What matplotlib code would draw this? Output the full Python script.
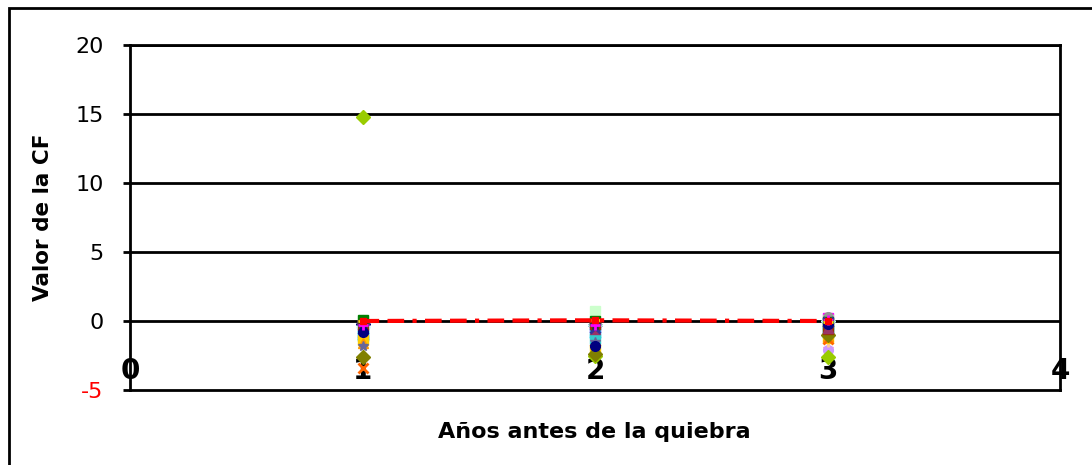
import numpy as np
import matplotlib.pyplot as plt
from matplotlib.patches import Rectangle

# years before bankruptcy
years = [1, 2, 3]

# CF value per company (one row = one company, values at years 1, 2, 3)
cf_values = [
    [-0.2, -0.3, 0.0],
    [-0.3, -0.4, 0.2],
    [-1.3, -0.3, -0.2],
    [-1.0, -0.9, -0.8],
    [-0.6, -0.5, -0.4],
    [-0.1, -0.2, -0.2],
    [-0.2, -0.5, -0.3],
    [-0.5, 0.1, -0.1],
    [-1.1, -0.9, -0.7],
    [-0.4, -0.3, 0.0],
    [0.0, 0.7, 0.1],
    [-1.3, -1.0, -0.4],
    [-0.9, -0.6, -0.3],
    [-0.8, -0.7, -2.0],
    [-0.3, -0.2, -2.1],
    [-0.5, -0.1, -1.5],
    [-0.7, -0.4, -0.6],
    [-1.0, -1.3, -0.9],
    [14.8, -2.5, -2.6],
    [-1.4, -2.1, -1.2],
    [-1.6, -2.2, -1.1],
    [-3.4, -2.0, -1.3],
    [-1.8, -1.5, -0.8],
    [0.1, -0.1, 0.3],
    [-0.4, -0.6, -0.2],
    [-0.1, 0.1, -0.4],
    [0.1, 0.0, -0.1],
    [-2.6, -2.4, -1.0],
    [-0.3, -0.2, -0.6],
    [-0.5, -0.6, -0.5],
    [-0.6, -0.5, -0.1],
    [-0.2, -0.3, -0.2],
    [-0.8, -1.8, -0.2],
    [-0.3, -0.3, 0.1],
    [0.0, 0.1, -0.1],
]

# average line
cf_mean = [0.0, 0.05, 0.0]

y_ticks = [-5, 0, 5, 10, 15, 20]
x_ticks = [0, 1, 2, 3, 4]

palette = ['#000080', '#FF00FF', '#FFFF00', '#00FFFF', '#800080', '#800000',
           '#008080', '#0000FF', '#00CCFF', '#CCFFFF', '#CCFFCC', '#FFFF99',
           '#99CCFF', '#FF99CC', '#CC99FF', '#FFCC99', '#3366FF', '#33CCCC',
           '#99CC00', '#FFCC00', '#FF9900', '#FF6600', '#666699', '#969696',
           '#003366', '#339966', '#008000', '#808000', '#993300', '#993366',
           '#333399', '#333333']
markers = ['D', 's', '^', 'x', '*', 'o', '+', '_', 's']

fig = plt.figure(figsize=(10.92, 4.65), dpi=100)
ax = fig.add_axes([130/1092, 1 - 390/465, 930/1092, 345/465])

for i, vals in enumerate(cf_values):
    c = palette[i % len(palette)]
    m = markers[i % len(markers)]
    ms = 7.5 if m == 'D' else 7
    ax.plot(years, vals, linestyle='none', marker=m, color=c,
            markerfacecolor=c, markeredgecolor=c, markersize=ms,
            markeredgewidth=2 if m in ('x', '+', '_') else 1, zorder=2)

ax.plot(years, cf_mean, color='red', linewidth=3, dashes=[4, 2, 4, 2, 1, 2],
        marker='s', markersize=4, zorder=2.2)

ax.set_xlim(0, 4)
ax.set_ylim(-5, 20)
ax.set_yticks(y_ticks)
ax.set_yticklabels([str(v) for v in y_ticks], fontsize=16)
ax.get_yticklabels()[0].set_color('red')
ax.tick_params(axis='y', direction='out', length=5, width=2, pad=14)

ax.set_xticks(x_ticks)
ax.set_xticklabels([str(v) for v in x_ticks], fontsize=20, fontweight='bold')
ax.tick_params(axis='x', length=0, pad=-24)

for v in y_ticks[1:]:
    ax.axhline(v, color='black', linewidth=2, zorder=1)
for s in ax.spines.values():
    s.set_linewidth(2)

ax.set_ylabel('Valor de la CF', fontsize=15.5, fontweight='bold')
ax.yaxis.set_label_coords(-(130 - 53) / 930, 0.5)
fig.text(594/1092, 1 - 432/465, 'Años antes de la quiebra', fontsize=16,
         fontweight='bold', ha='center', va='center')

fig.patches.append(Rectangle((9/1092, -0.1), 1.1, 1.1 - 8/465,
                             transform=fig.transFigure, fill=False,
                             edgecolor='black', linewidth=2))

fig.savefig('out.png', dpi=100)
